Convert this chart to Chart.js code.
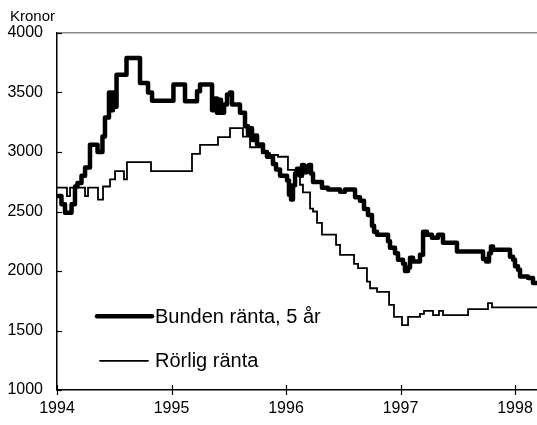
<!DOCTYPE html>
<html lang="sv">
    <head>
        <meta charset="UTF-8">
        <title>Bunden och rörlig ränta</title>
        <script src="https://cdn.jsdelivr.net/npm/chart.js"></script>
        <style>
            html, body { margin: 0; padding: 0; background: #fff; }
            .chart-container { position: relative; width: 537px; height: 425px; }
        </style>
    </head>
    <body>
        <div class="chart-container">
            <canvas id="chart"></canvas>
        </div>

        <script>
            // Bunden ränta, 5 år: datum (decimalår) där nivån ändras, och nivån i kronor
            const bundenDatum = [
                1994.000, 1994.039, 1994.070, 1994.127, 1994.157, 1994.179, 1994.214, 1994.245,
                1994.288, 1994.354, 1994.397, 1994.419, 1994.454, 1994.472, 1994.489, 1994.502,
                1994.520, 1994.607, 1994.725, 1994.795, 1994.830, 1995.017, 1995.118, 1995.223,
                1995.249, 1995.354, 1995.380, 1995.397, 1995.415, 1995.432, 1995.459, 1995.485,
                1995.511, 1995.528, 1995.598, 1995.642, 1995.668, 1995.686, 1995.703, 1995.729,
                1995.747, 1995.799, 1995.834, 1995.886, 1995.913, 1995.948, 1996.009, 1996.026,
                1996.044, 1996.061, 1996.079, 1996.096, 1996.122, 1996.140, 1996.157, 1996.183,
                1996.201, 1996.218, 1996.236, 1996.314, 1996.367, 1996.472, 1996.515, 1996.603,
                1996.646, 1996.681, 1996.716, 1996.751, 1996.769, 1996.795, 1996.891, 1996.908,
                1996.952, 1996.978, 1997.022, 1997.039, 1997.066, 1997.083, 1997.109, 1997.170,
                1997.197, 1997.231, 1997.275, 1997.328, 1997.371, 1997.493, 1997.721, 1997.747,
                1997.773, 1997.790, 1997.808, 1997.956, 1997.983, 1998.000, 1998.026, 1998.044,
                1998.114, 1998.157, 1998.192
            ];
            const bundenKronor = [
                2630, 2560, 2490, 2560, 2710, 2740, 2800, 2870,
                3060, 3000, 3130, 3290, 3500, 3350, 3500, 3380,
                3650, 3790, 3580, 3500, 3430, 3567, 3427, 3510,
                3567, 3350, 3450, 3330, 3440, 3330, 3400, 3483,
                3500, 3400, 3330, 3216, 3150, 3200, 3100, 3138,
                3062, 3000, 2960, 2900, 2852, 2800, 2760, 2640,
                2600, 2720, 2820, 2860, 2800, 2890, 2830, 2880,
                2890, 2820, 2747, 2700, 2684, 2667, 2684, 2620,
                2590, 2520, 2470, 2380, 2330, 2305, 2250, 2195,
                2150, 2094, 2060, 2000, 2030, 2111, 2080, 2136,
                2330, 2305, 2280, 2305, 2237, 2164, 2100, 2080,
                2150, 2206, 2178, 2120, 2094, 2040, 2010, 1954,
                1942, 1900, 1900
            ];

            // Rörlig ränta
            const rorligDatum = [
                1994.000, 1994.087, 1994.114, 1994.245, 1994.271, 1994.358, 1994.402, 1994.463,
                1994.507, 1994.585, 1994.611, 1994.821, 1995.179, 1995.249, 1995.406, 1995.511,
                1995.624, 1995.686, 1995.790, 1995.860, 1995.930, 1996.017, 1996.079, 1996.122,
                1996.148, 1996.210, 1996.236, 1996.271, 1996.314, 1996.437, 1996.472, 1996.594,
                1996.629, 1996.707, 1996.734, 1996.795, 1996.900, 1996.943, 1997.013, 1997.066,
                1997.170, 1997.205, 1997.284, 1997.336, 1997.371, 1997.590, 1997.764, 1997.799,
                1998.192
            ];
            const rorligKronor = [
                2700, 2630, 2700, 2630, 2700, 2600, 2710, 2770,
                2840, 2770, 2915, 2840, 2985, 3060, 3125, 3200,
                3130, 3040, 2990, 2975, 2960, 2850, 2800, 2725,
                2660, 2525, 2500, 2405, 2305, 2220, 2135, 2060,
                2025, 1910, 1855, 1825, 1715, 1615, 1545, 1615,
                1640, 1665, 1630, 1665, 1630, 1680, 1730, 1695,
                1695
            ];

            const yTicks = [1000, 1500, 2000, 2500, 3000, 3500, 4000];
            const xTicks = [1994, 1995, 1996, 1997, 1998];
            const serieNamn = ['Bunden ränta, 5 år', 'Rörlig ränta'];

            const FONT = "'Liberation Sans', Arial, Helvetica, sans-serif";
            Chart.defaults.font.family = FONT;
            Chart.defaults.font.size = 16;
            Chart.defaults.color = '#000';

            const toPoints = (xs, ys) => xs.map((x, i) => ({ x: x, y: ys[i] }));

            // ticks, "Kronor" and the legend inside the plot
            const extras = {
                id: 'extras',
                afterDraw(chart) {
                    const ctx = chart.ctx;
                    const area = chart.chartArea;
                    const xs = chart.scales.x;
                    const ys = chart.scales.y;
                    ctx.save();
                    ctx.strokeStyle = '#000';
                    ctx.lineWidth = 1.2;
                    xTicks.forEach(t => {
                        const px = Math.round(xs.getPixelForValue(t)) + 0.5;
                        ctx.beginPath();
                        ctx.moveTo(px, area.bottom - 5);
                        ctx.lineTo(px, area.bottom + 5);
                        ctx.stroke();
                    });
                    yTicks.forEach(t => {
                        const py = Math.round(ys.getPixelForValue(t)) + 0.5;
                        ctx.beginPath();
                        ctx.moveTo(area.left, py);
                        ctx.lineTo(area.left + 5, py);
                        ctx.stroke();
                    });

                    ctx.fillStyle = '#000';
                    ctx.font = '15px ' + FONT;
                    ctx.textAlign = 'left';
                    ctx.textBaseline = 'middle';
                    ctx.fillText('Kronor', 10, 17);

                    // legend
                    const lx = area.left + 40;
                    const rows = [
                        { y: ys.getPixelForValue(1620), w: 4.5, x0: lx, x1: lx + 55 },
                        { y: ys.getPixelForValue(1245), w: 1.8, x0: lx + 3, x1: lx + 51 }
                    ];
                    ctx.font = '20px ' + FONT;
                    rows.forEach((r, i) => {
                        ctx.lineWidth = r.w;
                        ctx.lineCap = 'round';
                        ctx.beginPath();
                        ctx.moveTo(r.x0, r.y);
                        ctx.lineTo(r.x1, r.y);
                        ctx.stroke();
                        ctx.fillText(serieNamn[i], lx + 58, r.y + 1);
                    });
                    ctx.restore();
                }
            };

            new Chart(document.getElementById('chart'), {
                type: 'line',
                data: {
                    datasets: [
                        {
                            label: serieNamn[0],
                            data: toPoints(bundenDatum, bundenKronor),
                            borderColor: '#000',
                            borderWidth: 4.5,
                            borderJoinStyle: 'round',
                            borderCapStyle: 'round',
                            stepped: true,
                            pointRadius: 0,
                            fill: false
                        },
                        {
                            label: serieNamn[1],
                            data: toPoints(rorligDatum, rorligKronor),
                            borderColor: '#000',
                            borderWidth: 1.8,
                            stepped: true,
                            pointRadius: 0,
                            fill: false
                        }
                    ]
                },
                options: {
                    responsive: true,
                    maintainAspectRatio: false,
                    animation: false,
                    events: [],
                    layout: { padding: { top: 33, left: 0, right: 0, bottom: 0 } },
                    plugins: {
                        legend: { display: false },
                        tooltip: { enabled: false }
                    },
                    scales: {
                        x: {
                            type: 'linear',
                            min: 1994,
                            max: 1998.192,
                            afterFit: s => { s.height = 35; s.paddingRight = 0; s.paddingLeft = 0; },
                            ticks: {
                                stepSize: 1,
                                includeBounds: false,
                                padding: 9,
                                maxRotation: 0,
                                callback: v => Number.isInteger(v) ? String(v) : ''
                            },
                            grid: { drawOnChartArea: false, drawTicks: false },
                            border: { color: '#000', width: 1.5 }
                        },
                        y: {
                            min: 1000,
                            max: 4000,
                            afterFit: s => { s.width = 57; },
                            ticks: {
                                stepSize: 500,
                                padding: 14,
                                callback: v => String(v)
                            },
                            grid: {
                                drawTicks: false,
                                color: c => c.tick && c.tick.value === 4000 ? '#8a8a8a' : 'rgba(0,0,0,0)',
                                lineWidth: 1.5
                            },
                            border: { color: '#000', width: 1.5 }
                        }
                    }
                },
                plugins: [extras]
            });
        </script>
    </body>
</html>
